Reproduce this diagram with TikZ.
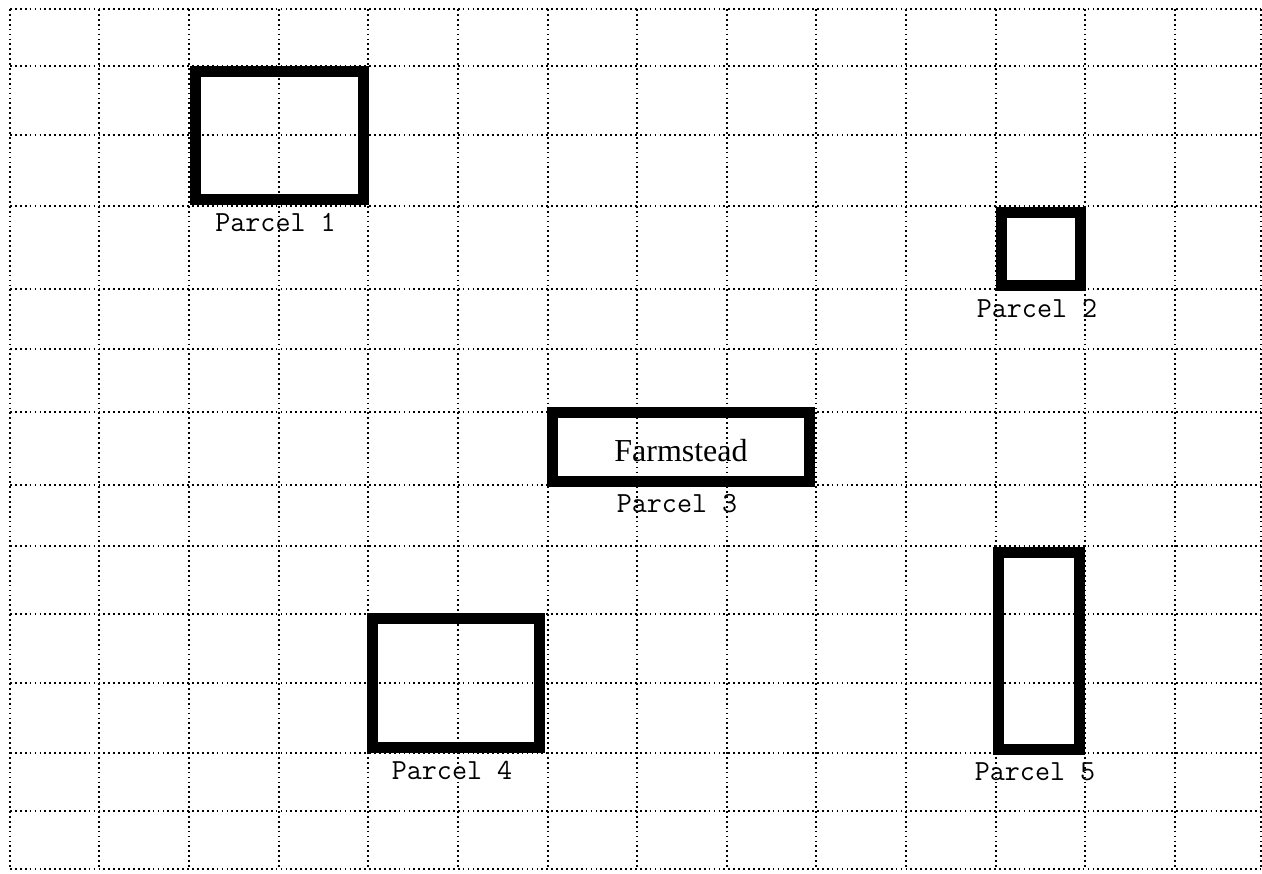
\documentclass[tikz,border=0pt]{standalone}
\usepackage{fontspec}
\setmainfont{Liberation Serif}
\begin{document}
\begin{tikzpicture}[x=0.2mm,y=-0.2mm,
  grid/.style={line width=1pt,dash pattern=on 1pt off 1.8pt},
  parcel/.style={line width=6pt},
  lbl/.style={font=\ttfamily\fontsize{16.6}{18}\selectfont,inner sep=0pt}]
\useasboundingbox (0,0) rectangle (1262,873);
\foreach \x in {10,99,189,279,368,458,548,637,727,816,906,996,1085,1175,1261} \draw[grid] (\x,9)--(\x,869);
\foreach \y in {9,66,135,206,289,349,412,485,546,614,683,753,811,869} \draw[grid] (10,\y)--(1261,\y);
\foreach \n/\xa/\ya/\xb/\yb in {1/190/66/369/205,2/996/207/1086/291,3/547/407/815/487,4/367/613/545/753,5/993/547/1085/755}{
  \draw[parcel] (\xa+5.3,\ya+5.3) rectangle (\xb-5.3,\yb-5.3);
  \node[lbl] (lab\n) at ({(\xa+\xb)/2-4},\yb+17) {Parcel \n};
}
\node[font=\fontsize{18.2}{20}\selectfont,inner sep=0pt] (farm) at (681,451) {Farmstead};
\end{tikzpicture}
\end{document}
